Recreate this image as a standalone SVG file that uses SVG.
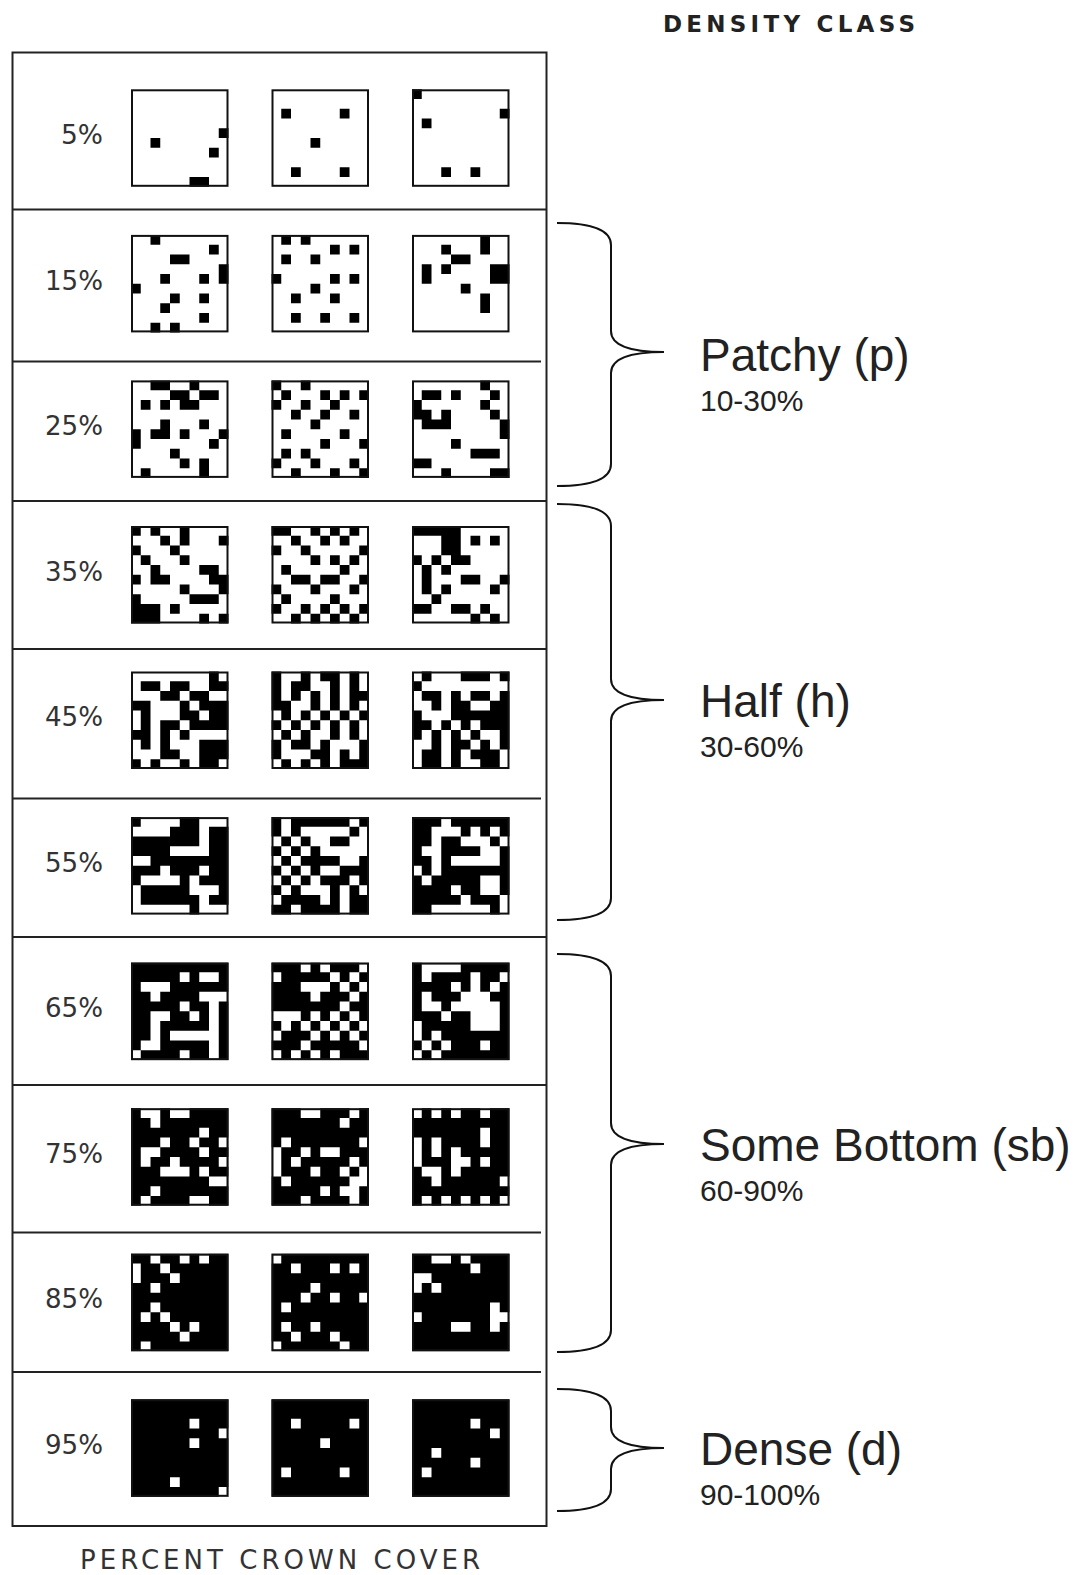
<svg xmlns="http://www.w3.org/2000/svg" width="1083" height="1575" viewBox="0 0 1083 1575">
<style>
.bw{fill:#fff}.bk{fill:#000}
.k{fill:#000}.w{fill:#fff}
.fr{fill:none;stroke:#111;stroke-width:2}
.tbl{fill:none;stroke:#222;stroke-width:2}
.div{stroke:#222;stroke-width:2}
.pct{font-family:"DejaVu Sans","Liberation Sans",sans-serif;font-size:26px;fill:#333;text-anchor:end}
.hd{font-family:"DejaVu Sans","Liberation Sans",sans-serif;font-size:23px;font-weight:bold;fill:#222}
.ft{font-family:"DejaVu Sans","Liberation Sans",sans-serif;font-size:26px;fill:#333}
.br{fill:none;stroke:#111;stroke-width:2}
.cl{font-family:"Liberation Sans",Arial,sans-serif;font-size:46px;fill:#222}
.rg{font-family:"Liberation Sans",Arial,sans-serif;font-size:30px;fill:#222}
</style>
<rect width="1083" height="1575" fill="#fff"/>
<g id="table">
<rect class="tbl" x="12.5" y="52.5" width="534" height="1473.5"/>
<line class="div" x1="12.5" y1="209.5" x2="546.5" y2="209.5"/>
<line class="div" x1="12.5" y1="361.5" x2="541" y2="361.5"/>
<line class="div" x1="12.5" y1="501" x2="546.5" y2="501"/>
<line class="div" x1="12.5" y1="649" x2="546.5" y2="649"/>
<line class="div" x1="12.5" y1="798.5" x2="541" y2="798.5"/>
<line class="div" x1="12.5" y1="937" x2="546.5" y2="937"/>
<line class="div" x1="12.5" y1="1085" x2="546.5" y2="1085"/>
<line class="div" x1="12.5" y1="1232.5" x2="541" y2="1232.5"/>
<line class="div" x1="12.5" y1="1372" x2="541" y2="1372"/>
</g>
<text class="hd" x="663" y="32" textLength="252" lengthAdjust="spacing">DENSITY CLASS</text>
<text class="ft" x="80" y="1569" textLength="400" lengthAdjust="spacing">PERCENT CROWN COVER</text>
<g id="labels">
<text class="pct" x="103" y="144" textLength="42" lengthAdjust="spacingAndGlyphs">5%</text>
<text class="pct" x="103" y="290" textLength="58" lengthAdjust="spacingAndGlyphs">15%</text>
<text class="pct" x="103" y="435" textLength="58" lengthAdjust="spacingAndGlyphs">25%</text>
<text class="pct" x="103" y="581" textLength="58" lengthAdjust="spacingAndGlyphs">35%</text>
<text class="pct" x="103" y="726" textLength="58" lengthAdjust="spacingAndGlyphs">45%</text>
<text class="pct" x="103" y="872" textLength="58" lengthAdjust="spacingAndGlyphs">55%</text>
<text class="pct" x="103" y="1017" textLength="58" lengthAdjust="spacingAndGlyphs">65%</text>
<text class="pct" x="103" y="1163" textLength="58" lengthAdjust="spacingAndGlyphs">75%</text>
<text class="pct" x="103" y="1308" textLength="58" lengthAdjust="spacingAndGlyphs">85%</text>
<text class="pct" x="103" y="1454" textLength="58" lengthAdjust="spacingAndGlyphs">95%</text>
</g>
<g id="c05-1" transform="translate(131,89.3)"><rect class="bw" width="97.5" height="97.5"/><path class="k" transform="scale(9.75)" d="M9 4h1v1h-1zM2 5h1v1h-1zM8 6h1v1h-1zM6 9h2v1h-2z"/><rect class="fr" x="1" y="1" width="95.5" height="95.5"/></g>
<g id="c05-2" transform="translate(271.5,89.3)"><rect class="bw" width="97.5" height="97.5"/><path class="k" transform="scale(9.75)" d="M1 2h1v1h-1zM7 2h1v1h-1zM4 5h1v1h-1zM2 8h1v1h-1zM7 8h1v1h-1z"/><rect class="fr" x="1" y="1" width="95.5" height="95.5"/></g>
<g id="c05-3" transform="translate(412,89.3)"><rect class="bw" width="97.5" height="97.5"/><path class="k" transform="scale(9.75)" d="M0 0h1v1h-1zM9 2h1v1h-1zM1 3h1v1h-1zM3 8h1v1h-1zM6 8h1v1h-1z"/><rect class="fr" x="1" y="1" width="95.5" height="95.5"/></g>
<g id="c15-1" transform="translate(131,234.9)"><rect class="bw" width="97.5" height="97.5"/><path class="k" transform="scale(9.75)" d="M2 0h1v1h-1zM8 1h1v1h-1zM4 2h2v1h-2zM9 3h1v2h-1zM3 4h1v1h-1zM7 4h1v1h-1zM0 5h1v1h-1zM4 6h1v1h-1zM7 6h1v1h-1zM3 7h1v1h-1zM7 8h1v1h-1zM2 9h1v1h-1zM4 9h1v1h-1z"/><rect class="fr" x="1" y="1" width="95.5" height="95.5"/></g>
<g id="c15-2" transform="translate(271.5,234.9)"><rect class="bw" width="97.5" height="97.5"/><path class="k" transform="scale(9.75)" d="M1 0h1v1h-1zM3 0h1v1h-1zM6 1h1v1h-1zM8 1h1v1h-1zM1 2h1v1h-1zM4 2h1v1h-1zM0 4h1v1h-1zM6 4h1v1h-1zM8 4h1v1h-1zM4 5h1v1h-1zM2 6h1v1h-1zM6 6h1v1h-1zM2 8h1v1h-1zM5 8h1v1h-1zM8 8h1v1h-1z"/><rect class="fr" x="1" y="1" width="95.5" height="95.5"/></g>
<g id="c15-3" transform="translate(412,234.9)"><rect class="bw" width="97.5" height="97.5"/><path class="k" transform="scale(9.75)" d="M7 0h1v2h-1zM3 1h1v1h-1zM4 2h2v1h-2zM1 3h1v2h-1zM3 3h1v1h-1zM8 3h2v2h-2zM5 5h1v1h-1zM7 6h1v2h-1z"/><rect class="fr" x="1" y="1" width="95.5" height="95.5"/></g>
<g id="c25-1" transform="translate(131,380.4)"><rect class="bw" width="97.5" height="97.5"/><path class="k" transform="scale(9.75)" d="M2 0h2v1h-2zM6 0h1v1h-1zM4 1h2v1h-2zM7 1h2v1h-2zM1 2h1v1h-1zM3 2h1v1h-1zM5 2h2v1h-2zM3 4h1v1h-1zM7 4h1v1h-1zM0 5h1v2h-1zM2 5h2v1h-2zM5 5h1v1h-1zM9 5h1v1h-1zM8 6h1v1h-1zM4 7h1v1h-1zM5 8h1v1h-1zM7 8h1v2h-1zM1 9h1v1h-1z"/><rect class="fr" x="1" y="1" width="95.5" height="95.5"/></g>
<g id="c25-2" transform="translate(271.5,380.4)"><rect class="bw" width="97.5" height="97.5"/><path class="k" transform="scale(9.75)" d="M0 0h1v1h-1zM3 0h1v1h-1zM1 1h1v1h-1zM5 1h1v1h-1zM7 1h1v1h-1zM9 1h1v1h-1zM0 2h1v1h-1zM3 2h1v1h-1zM6 2h1v1h-1zM2 3h1v1h-1zM5 3h1v1h-1zM8 3h1v1h-1zM4 4h1v1h-1zM1 5h1v1h-1zM7 5h1v1h-1zM5 6h1v1h-1zM9 6h1v1h-1zM1 7h1v1h-1zM3 7h1v1h-1zM0 8h1v1h-1zM4 8h1v1h-1zM8 8h1v1h-1zM2 9h1v1h-1zM6 9h1v1h-1zM9 9h1v1h-1z"/><rect class="fr" x="1" y="1" width="95.5" height="95.5"/></g>
<g id="c25-3" transform="translate(412,380.4)"><rect class="bw" width="97.5" height="97.5"/><path class="k" transform="scale(9.75)" d="M7 0h1v1h-1zM1 1h2v1h-2zM4 1h1v1h-1zM8 1h1v1h-1zM0 2h1v1h-1zM7 2h1v1h-1zM0 3h2v1h-2zM3 3h1v1h-1zM8 3h1v1h-1zM1 4h3v1h-3zM9 4h1v2h-1zM4 6h1v1h-1zM6 7h3v1h-3zM0 8h2v1h-2zM3 9h1v1h-1zM8 9h2v1h-2z"/><rect class="fr" x="1" y="1" width="95.5" height="95.5"/></g>
<g id="c35-1" transform="translate(131,526)"><rect class="bw" width="97.5" height="97.5"/><path class="k" transform="scale(9.75)" d="M0 0h1v1h-1zM2 0h1v1h-1zM5 0h1v2h-1zM3 1h1v1h-1zM9 1h1v1h-1zM0 2h1v1h-1zM4 2h1v1h-1zM1 3h1v1h-1zM5 3h1v1h-1zM2 4h1v1h-1zM7 4h2v1h-2zM0 5h1v1h-1zM2 5h2v1h-2zM8 5h2v1h-2zM5 6h1v1h-1zM9 6h1v1h-1zM0 7h1v1h-1zM6 7h3v1h-3zM0 8h3v2h-3zM4 8h1v1h-1zM7 9h1v1h-1zM9 9h1v1h-1z"/><rect class="fr" x="1" y="1" width="95.5" height="95.5"/></g>
<g id="c35-2" transform="translate(271.5,526)"><rect class="bw" width="97.5" height="97.5"/><path class="k" transform="scale(9.75)" d="M0 0h2v1h-2zM4 0h1v1h-1zM6 0h1v1h-1zM8 0h1v1h-1zM2 1h1v1h-1zM5 1h1v1h-1zM7 1h1v1h-1zM0 2h1v1h-1zM3 2h1v1h-1zM9 2h1v1h-1zM4 3h1v1h-1zM6 3h1v1h-1zM8 3h1v1h-1zM1 4h1v1h-1zM7 4h1v1h-1zM2 5h2v1h-2zM5 5h2v1h-2zM9 5h1v1h-1zM0 6h1v1h-1zM4 6h1v1h-1zM8 6h1v1h-1zM1 7h1v1h-1zM6 7h1v1h-1zM0 8h1v1h-1zM3 8h1v1h-1zM5 8h1v1h-1zM7 8h1v1h-1zM9 8h1v1h-1zM2 9h1v1h-1zM4 9h1v1h-1zM6 9h1v1h-1zM8 9h1v1h-1z"/><rect class="fr" x="1" y="1" width="95.5" height="95.5"/></g>
<g id="c35-3" transform="translate(412,526)"><rect class="bw" width="97.5" height="97.5"/><path class="k" transform="scale(9.75)" d="M0 0h5v1h-5zM3 1h2v2h-2zM6 1h1v1h-1zM8 1h1v1h-1zM0 3h1v1h-1zM2 3h1v1h-1zM4 3h2v1h-2zM1 4h1v3h-1zM3 4h1v1h-1zM5 5h2v1h-2zM9 5h1v1h-1zM3 6h1v1h-1zM8 6h1v1h-1zM2 7h1v1h-1zM0 8h2v1h-2zM4 8h2v1h-2zM7 8h1v1h-1zM6 9h1v1h-1zM8 9h1v1h-1z"/><rect class="fr" x="1" y="1" width="95.5" height="95.5"/></g>
<g id="c45-1" transform="translate(131,671.5)"><rect class="bw" width="97.5" height="97.5"/><path class="k" transform="scale(9.75)" d="M8 0h1v1h-1zM1 1h2v1h-2zM4 1h2v1h-2zM8 1h2v1h-2zM3 2h2v1h-2zM6 2h2v1h-2zM0 3h2v1h-2zM5 3h1v1h-1zM7 3h3v1h-3zM1 4h1v1h-1zM5 4h2v1h-2zM8 4h2v1h-2zM1 5h1v1h-1zM3 5h2v1h-2zM6 5h4v1h-4zM0 6h2v1h-2zM3 6h1v1h-1zM5 6h1v1h-1zM1 7h1v1h-1zM3 7h1v1h-1zM7 7h3v1h-3zM3 8h2v1h-2zM7 8h3v1h-3zM0 9h1v1h-1zM2 9h1v1h-1zM5 9h1v1h-1zM7 9h2v1h-2z"/><rect class="fr" x="1" y="1" width="95.5" height="95.5"/></g>
<g id="c45-2" transform="translate(271.5,671.5)"><rect class="bw" width="97.5" height="97.5"/><path class="k" transform="scale(9.75)" d="M0 0h1v1h-1zM3 0h1v1h-1zM5 0h2v1h-2zM8 0h1v1h-1zM0 1h1v1h-1zM2 1h2v1h-2zM6 1h1v1h-1zM8 1h1v1h-1zM0 2h1v1h-1zM2 2h1v1h-1zM4 2h1v1h-1zM6 2h1v1h-1zM8 2h2v1h-2zM0 3h2v1h-2zM4 3h1v1h-1zM6 3h1v1h-1zM8 3h1v1h-1zM1 4h1v1h-1zM3 4h1v1h-1zM5 4h1v1h-1zM7 4h1v1h-1zM9 4h1v1h-1zM0 5h1v1h-1zM2 5h1v1h-1zM4 5h1v1h-1zM6 5h1v1h-1zM8 5h1v1h-1zM1 6h1v1h-1zM3 6h1v1h-1zM6 6h1v1h-1zM8 6h1v1h-1zM0 7h1v1h-1zM2 7h2v1h-2zM5 7h1v1h-1zM9 7h1v1h-1zM0 8h1v1h-1zM4 8h2v1h-2zM7 8h1v1h-1zM9 8h1v1h-1zM1 9h1v1h-1zM3 9h1v1h-1zM5 9h1v1h-1zM7 9h3v1h-3z"/><rect class="fr" x="1" y="1" width="95.5" height="95.5"/></g>
<g id="c45-3" transform="translate(412,671.5)"><rect class="bw" width="97.5" height="97.5"/><path class="k" transform="scale(9.75)" d="M1 0h1v1h-1zM5 0h3v1h-3zM9 0h1v1h-1zM0 1h1v1h-1zM1 2h2v1h-2zM4 2h1v1h-1zM6 2h2v1h-2zM9 2h1v1h-1zM2 3h1v1h-1zM4 3h2v1h-2zM8 3h2v1h-2zM0 4h1v1h-1zM4 4h6v1h-6zM0 5h2v1h-2zM3 5h1v1h-1zM5 5h1v1h-1zM7 5h3v1h-3zM0 6h1v1h-1zM2 6h1v1h-1zM4 6h1v1h-1zM6 6h1v1h-1zM9 6h1v1h-1zM2 7h1v1h-1zM4 7h2v1h-2zM7 7h1v1h-1zM9 7h1v1h-1zM1 8h2v1h-2zM4 8h1v1h-1zM6 8h3v1h-3zM1 9h2v1h-2zM4 9h1v1h-1zM7 9h2v1h-2z"/><rect class="fr" x="1" y="1" width="95.5" height="95.5"/></g>
<g id="c55-1" transform="translate(131,817.1)"><rect class="bw" width="97.5" height="97.5"/><path class="k" transform="scale(9.75)" d="M0 0h1v1h-1zM5 0h2v1h-2zM4 1h3v1h-3zM8 1h2v1h-2zM0 2h7v1h-7zM8 2h2v1h-2zM0 3h4v1h-4zM8 3h2v1h-2zM2 4h8v1h-8zM0 5h3v1h-3zM4 5h3v1h-3zM8 5h2v1h-2zM0 6h1v1h-1zM5 6h1v1h-1zM7 6h3v1h-3zM1 7h5v1h-5zM9 7h1v1h-1zM1 8h6v1h-6zM8 8h2v1h-2zM6 9h1v1h-1z"/><rect class="fr" x="1" y="1" width="95.5" height="95.5"/></g>
<g id="c55-2" transform="translate(271.5,817.1)"><rect class="bw" width="97.5" height="97.5"/><path class="k" transform="scale(9.75)" d="M0 0h1v1h-1zM2 0h6v1h-6zM9 0h1v1h-1zM0 1h1v1h-1zM2 1h1v1h-1zM8 1h1v1h-1zM1 2h1v1h-1zM3 2h1v1h-1zM6 2h2v1h-2zM0 3h1v1h-1zM2 3h1v1h-1zM4 3h1v1h-1zM1 4h1v1h-1zM3 4h4v1h-4zM9 4h1v1h-1zM0 5h1v1h-1zM2 5h1v1h-1zM4 5h1v1h-1zM7 5h3v1h-3zM1 6h1v1h-1zM3 6h1v1h-1zM5 6h3v1h-3zM9 6h1v1h-1zM0 7h1v1h-1zM2 7h1v1h-1zM6 7h1v1h-1zM8 7h1v1h-1zM1 8h4v1h-4zM6 8h1v1h-1zM8 8h2v1h-2zM0 9h2v1h-2zM3 9h4v1h-4zM8 9h2v1h-2z"/><rect class="fr" x="1" y="1" width="95.5" height="95.5"/></g>
<g id="c55-3" transform="translate(412,817.1)"><rect class="bw" width="97.5" height="97.5"/><path class="k" transform="scale(9.75)" d="M0 0h3v1h-3zM4 0h6v1h-6zM0 1h2v1h-2zM5 1h1v1h-1zM7 1h1v1h-1zM9 1h1v1h-1zM0 2h2v1h-2zM3 2h2v1h-2zM8 2h1v1h-1zM0 3h1v1h-1zM3 3h4v1h-4zM9 3h1v1h-1zM0 4h2v1h-2zM3 4h1v1h-1zM9 4h1v1h-1zM1 5h1v1h-1zM3 5h7v1h-7zM0 6h1v1h-1zM2 6h5v1h-5zM9 6h1v1h-1zM0 7h4v1h-4zM5 7h2v1h-2zM9 7h1v1h-1zM0 8h5v1h-5zM6 8h3v1h-3zM0 9h2v1h-2zM8 9h1v1h-1z"/><rect class="fr" x="1" y="1" width="95.5" height="95.5"/></g>
<g id="c65-1" transform="translate(131,962.6)"><rect class="bk" width="97.5" height="97.5"/><path class="w" transform="scale(9.75)" d="M5 1h1v1h-1zM7 1h2v1h-2zM1 2h3v1h-3zM2 3h1v1h-1zM7 3h3v1h-3zM5 4h1v1h-1zM8 4h1v1h-1zM2 5h2v1h-2zM6 5h1v1h-1zM8 5h1v1h-1zM2 6h1v1h-1zM8 6h1v1h-1zM2 7h1v1h-1zM4 7h5v1h-5zM1 8h2v1h-2zM8 8h1v1h-1zM0 9h1v1h-1zM5 9h1v1h-1zM8 9h1v1h-1z"/><rect class="fr" x="1" y="1" width="95.5" height="95.5"/></g>
<g id="c65-2" transform="translate(271.5,962.6)"><rect class="bk" width="97.5" height="97.5"/><path class="w" transform="scale(9.75)" d="M3 0h1v1h-1zM5 0h1v1h-1zM9 0h1v1h-1zM0 1h1v1h-1zM6 1h1v1h-1zM8 1h1v1h-1zM3 2h3v1h-3zM7 2h1v1h-1zM9 2h1v1h-1zM4 3h1v1h-1zM8 3h1v1h-1zM7 4h1v1h-1zM0 5h3v1h-3zM4 5h1v1h-1zM6 5h1v1h-1zM8 5h1v1h-1zM1 6h1v1h-1zM3 6h1v1h-1zM5 6h1v1h-1zM7 6h1v1h-1zM9 6h1v1h-1zM0 7h1v1h-1zM4 7h1v1h-1zM6 7h1v1h-1zM8 7h1v1h-1zM3 8h1v1h-1zM9 8h1v1h-1zM0 9h1v1h-1zM2 9h1v1h-1zM4 9h1v1h-1zM6 9h1v1h-1z"/><rect class="fr" x="1" y="1" width="95.5" height="95.5"/></g>
<g id="c65-3" transform="translate(412,962.6)"><rect class="bk" width="97.5" height="97.5"/><path class="w" transform="scale(9.75)" d="M1 0h4v1h-4zM1 1h1v1h-1zM6 1h1v1h-1zM9 1h1v1h-1zM4 2h1v1h-1zM6 2h1v1h-1zM8 2h1v1h-1zM1 3h1v1h-1zM5 3h3v1h-3zM1 4h2v1h-2zM4 4h5v1h-5zM3 5h1v1h-1zM6 5h3v1h-3zM0 6h1v1h-1zM6 6h3v1h-3zM0 7h1v1h-1zM2 7h1v1h-1zM1 8h1v1h-1zM3 8h1v1h-1zM7 8h1v1h-1zM0 9h1v1h-1zM2 9h1v1h-1z"/><rect class="fr" x="1" y="1" width="95.5" height="95.5"/></g>
<g id="c75-1" transform="translate(131,1108.2)"><rect class="bk" width="97.5" height="97.5"/><path class="w" transform="scale(9.75)" d="M1 0h2v1h-2zM4 0h2v1h-2zM2 1h1v1h-1zM7 2h1v1h-1zM3 3h1v1h-1zM6 3h1v1h-1zM9 3h1v1h-1zM1 4h2v1h-2zM7 4h1v1h-1zM1 5h1v1h-1zM4 5h1v1h-1zM9 5h1v1h-1zM3 6h3v1h-3zM7 6h1v1h-1zM8 7h2v1h-2zM2 8h1v1h-1zM1 9h1v1h-1zM6 9h2v1h-2z"/><rect class="fr" x="1" y="1" width="95.5" height="95.5"/></g>
<g id="c75-2" transform="translate(271.5,1108.2)"><rect class="bk" width="97.5" height="97.5"/><path class="w" transform="scale(9.75)" d="M3 0h2v1h-2zM8 0h1v1h-1zM7 1h1v1h-1zM1 3h1v1h-1zM9 3h1v1h-1zM0 4h1v3h-1zM3 4h1v1h-1zM5 4h2v1h-2zM2 5h1v1h-1zM8 5h1v1h-1zM4 6h1v1h-1zM7 6h1v1h-1zM9 6h1v1h-1zM1 7h1v1h-1zM8 7h2v1h-2zM5 8h1v1h-1zM7 8h2v1h-2zM3 9h1v1h-1zM8 9h1v1h-1z"/><rect class="fr" x="1" y="1" width="95.5" height="95.5"/></g>
<g id="c75-3" transform="translate(412,1108.2)"><rect class="bk" width="97.5" height="97.5"/><path class="w" transform="scale(9.75)" d="M0 0h1v1h-1zM2 0h1v1h-1zM4 0h1v1h-1zM7 0h1v1h-1zM7 2h1v2h-1zM7 5h1v1h-1zM0 3h1v3h-1zM2 3h1v2h-1zM4 4h1v3h-1zM5 5h1v1h-1zM1 6h2v1h-2zM2 7h1v1h-1zM9 7h1v1h-1zM1 9h1v1h-1zM3 9h1v1h-1zM5 9h1v1h-1zM7 9h1v1h-1zM9 9h1v1h-1z"/><rect class="fr" x="1" y="1" width="95.5" height="95.5"/></g>
<g id="c85-1" transform="translate(131,1253.7)"><rect class="bk" width="97.5" height="97.5"/><path class="w" transform="scale(9.75)" d="M2 0h1v1h-1zM5 0h1v1h-1zM7 0h1v1h-1zM0 1h1v2h-1zM3 1h1v1h-1zM4 2h1v1h-1zM2 3h1v1h-1zM2 5h1v1h-1zM1 6h1v1h-1zM3 6h1v1h-1zM4 7h1v1h-1zM6 7h1v1h-1zM5 8h1v1h-1zM1 9h1v1h-1z"/><rect class="fr" x="1" y="1" width="95.5" height="95.5"/></g>
<g id="c85-2" transform="translate(271.5,1253.7)"><rect class="bk" width="97.5" height="97.5"/><path class="w" transform="scale(9.75)" d="M0 0h1v1h-1zM2 1h1v1h-1zM6 1h1v1h-1zM8 1h1v1h-1zM4 3h1v1h-1zM3 4h1v1h-1zM6 4h1v1h-1zM9 4h1v1h-1zM1 5h1v1h-1zM1 7h1v1h-1zM4 7h1v1h-1zM2 8h1v1h-1zM6 8h1v1h-1zM0 9h1v1h-1zM7 9h1v1h-1z"/><rect class="fr" x="1" y="1" width="95.5" height="95.5"/></g>
<g id="c85-3" transform="translate(412,1253.7)"><rect class="bk" width="97.5" height="97.5"/><path class="w" transform="scale(9.75)" d="M2 0h2v1h-2zM5 0h1v1h-1zM6 1h1v1h-1zM0 2h2v1h-2zM0 3h1v1h-1zM2 3h1v1h-1zM8 5h1v3h-1zM0 6h1v1h-1zM9 6h1v1h-1zM4 7h2v1h-2z"/><rect class="fr" x="1" y="1" width="95.5" height="95.5"/></g>
<g id="c95-1" transform="translate(131,1399.3)"><rect class="bk" width="97.5" height="97.5"/><path class="w" transform="scale(9.75)" d="M6 2h1v1h-1zM9 3h1v1h-1zM6 4h1v1h-1zM4 8h1v1h-1zM9 9h1v1h-1z"/><rect class="fr" x="1" y="1" width="95.5" height="95.5"/></g>
<g id="c95-2" transform="translate(271.5,1399.3)"><rect class="bk" width="97.5" height="97.5"/><path class="w" transform="scale(9.75)" d="M2 2h1v1h-1zM8 2h1v1h-1zM5 4h1v1h-1zM1 7h1v1h-1zM7 7h1v1h-1z"/><rect class="fr" x="1" y="1" width="95.5" height="95.5"/></g>
<g id="c95-3" transform="translate(412,1399.3)"><rect class="bk" width="97.5" height="97.5"/><path class="w" transform="scale(9.75)" d="M6 2h1v1h-1zM8 3h1v1h-1zM2 5h1v1h-1zM6 6h1v1h-1zM1 7h1v1h-1z"/><rect class="fr" x="1" y="1" width="95.5" height="95.5"/></g>
<g id="connectors">
<path class="br" d="M557 223C590 223 611 229 611 245L611 331C611 346 632 352 664 352C632 352 611 358 611 373L611 464C611 480 590 486 557 486"/>
<path class="br" d="M557 504C590 504 611 510 611 526L611 679C611 694 632 700 664 700C632 700 611 706 611 721L611 898C611 914 590 920 557 920"/>
<path class="br" d="M557 954C590 954 611 960 611 976L611 1123C611 1138 632 1144 664 1144C632 1144 611 1150 611 1165L611 1330C611 1346 590 1352 557 1352"/>
<path class="br" d="M557 1389C590 1389 611 1395 611 1411L611 1427C611 1442 632 1448 664 1448C632 1448 611 1454 611 1469L611 1489C611 1505 590 1511 557 1511"/>
</g>
<g id="cls-p"><text class="cl" x="700" y="371">Patchy (p)</text><text class="rg" x="700" y="411">10-30%</text></g>
<g id="cls-h"><text class="cl" x="700" y="717">Half (h)</text><text class="rg" x="700" y="757">30-60%</text></g>
<g id="cls-sb"><text class="cl" x="700" y="1161">Some Bottom (sb)</text><text class="rg" x="700" y="1201">60-90%</text></g>
<g id="cls-d"><text class="cl" x="700" y="1465">Dense (d)</text><text class="rg" x="700" y="1505">90-100%</text></g>
</svg>
